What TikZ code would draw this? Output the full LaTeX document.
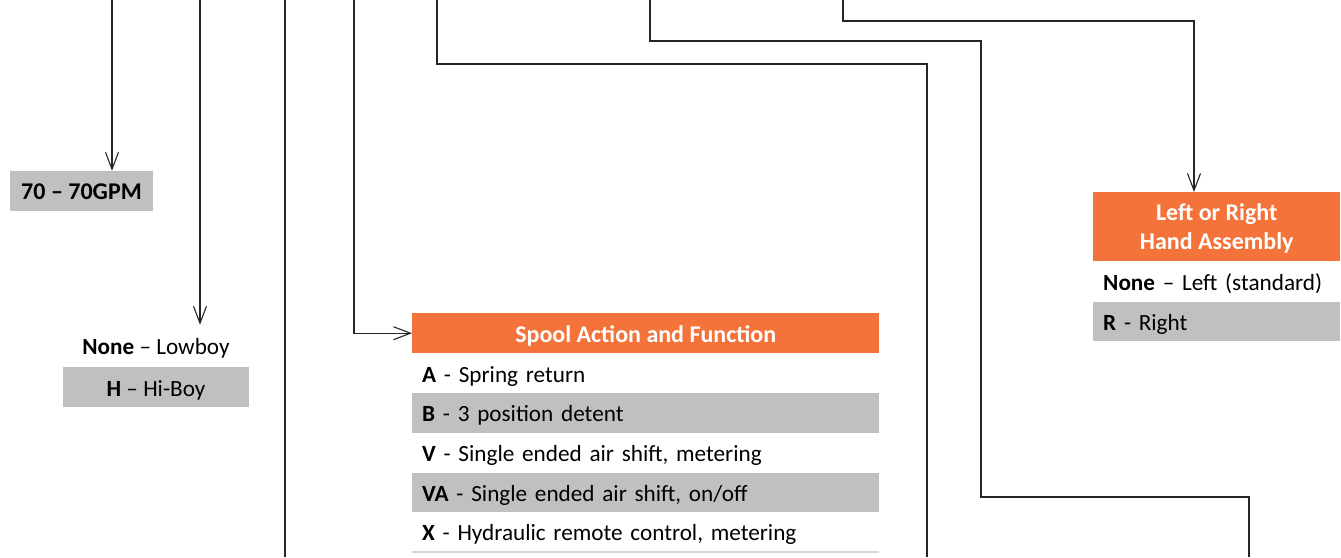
\documentclass[tikz,border=0pt]{standalone}
\usepackage{fontspec}
\setmainfont{Carlito}
\usepackage{tikz}
\usetikzlibrary{
	arrows.meta, positioning, calc
}
\definecolor{valorange}     {RGB}{243, 115,  58}
\definecolor{valgrey}       {RGB}{192, 192, 192}
\definecolor{valrule}       {RGB}{215, 215, 215}

\begin{document}
\begin{tikzpicture}[x=1pt,y=-1pt,
		wire/.style={draw=black!85, line width=1.1pt},
		feed/.style={wire, -{Straight Barb[length=17pt,width=13pt]}},
		cell/.style={font=\fontsize{23.2}{28}\selectfont, inner sep=0pt, text height=17.6pt, text depth=0pt},
		head/.style={fill=valorange, text=white, font=\bfseries\fontsize{24}{29}\selectfont, align=center, inner sep=0pt},
		row/.style={cell, text width=#1, inner xsep=10pt, align=left, minimum height=39.3pt},
		greyrow/.style={row=#1, fill=valgrey}
	]
	\useasboundingbox (0,0) rectangle (1341,557);
	% free ends of the feed lines
	\foreach \n/\x in {1/112, 2/200, 3/285, 4/354, 5/437, 6/650, 7/843}{\coordinate (t\n) at (\x,0);}
	\coordinate (b3) at (285,557);
	\coordinate (k5) at (927,64);
	\coordinate (b5) at (927,557);
	\coordinate (k6) at (981,41);
	\coordinate (k6b) at (1249,497);
	\coordinate (b6) at (1249,557);
	\coordinate (k7) at (1194,21);

	\node[cell, fill=valgrey, font=\bfseries\fontsize{24}{29}\selectfont, minimum width=143pt, minimum height=40pt] (gpm) at (81.5,191) {70 – 70GPM};

	\node[cell, minimum height=42pt] (lowboy) at (156,346) {\textbf{None} – Lowboy};
	\node[cell, fill=valgrey, minimum width=186pt, minimum height=40pt, below=0pt of lowboy] (hiboy) {\textbf{H} – Hi-Boy};

	\node[head, anchor=north west, minimum width=467pt, minimum height=40pt, text height=17.6pt, text depth=0pt] (spoolhead) at (412,313) {Spool Action and Function};
	\node[row=447pt, below=0pt of spoolhead] (spA) {\textbf{A} - Spring return};
	\node[greyrow=447pt, below=0pt of spA] (spB) {\textbf{B} - 3 position detent};
	\node[row=447pt, below=0pt of spB] (spV) {\textbf{V} - Single ended air shift, metering};
	\node[greyrow=447pt, below=0pt of spV] (spVA) {\textbf{VA} - Single ended air shift, on/off};
	\node[row=447pt, below=0pt of spVA] (spX) {\textbf{X} - Hydraulic remote control, metering};
	\draw[valrule, line width=1.5pt] (spX.south west) -- (spX.south east);

	\node[head, anchor=north west, minimum width=247pt, minimum height=69pt] (handhead) at (1093,192) {\rule{0pt}{20pt}Left or Right\\Hand Assembly};
	\node[row=227pt, minimum height=40pt, below=0pt of handhead] (hdL) {\textbf{None} – Left (standard)};
	\node[greyrow=227pt, minimum height=39pt, below=0pt of hdL] (hdR) {\textbf{R} - Right};

	\draw[feed] (t1) -- (t1 |- gpm.north);
	\draw[feed] (t2) -- (t2 |- lowboy.north);
	\draw[wire] (t3) -- (b3);
	\draw[feed] (t4) |- (spoolhead.west);
	\draw[wire] (t5) |- (k5) -- (b5);
	\draw[wire] (t6) |- (k6) |- (k6b) -- (b6);
	\draw[feed] (t7) |- (k7) -- (k7 |- handhead.north);
\end{tikzpicture}
\end{document}
